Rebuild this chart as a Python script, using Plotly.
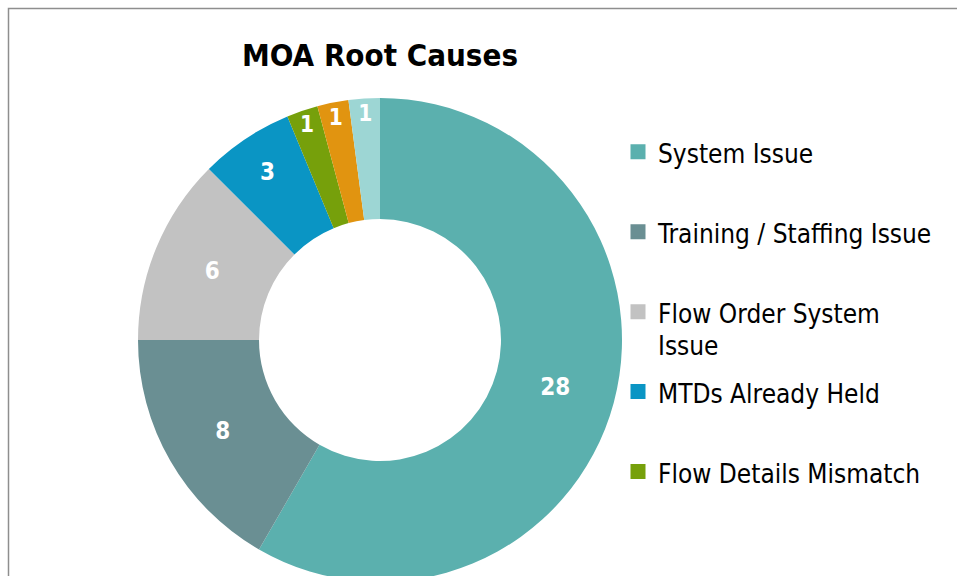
import plotly.graph_objects as go

# ---- data ----
categories = ["System Issue", "Training / Staffing Issue", "Flow Order System Issue",
              "MTDs Already Held", "Flow Details Mismatch", "Duplicate Request", "Other"]
legend_text = ["System Issue", "Training / Staffing Issue",
               'Flow Order System<br><span style="baseline-shift:7px">Issue</span>',
               "MTDs Already Held", "Flow Details Mismatch"]
values = [28, 8, 6, 3, 1, 1, 1]
colors = ["#5BB0AE", "#6A8F93", "#C2C2C2", "#0A95C4", "#76A00B", "#E19410", "#9DD6D4"]

W, H = 957, 720
FONT = "DejaVu Sans Condensed, DejaVu Sans, sans-serif"

# pie geometry in pixels (centre / radius)
cx, cy, r = 380, 340, 242

# legend labels: visible text at 26px, padded to a fixed item height
leg_labels = []
for t in legend_text:
    pad = "" if "<br>" in t else "<br> "
    leg_labels.append(f'<span style="font-size:26px">{t}</span>{pad}')
n_leg = len(leg_labels)

fig = go.Figure()
# main donut
fig.add_trace(go.Pie(
    labels=categories,
    values=values,
    marker=dict(colors=colors, line=dict(width=0)),
    hole=0.5,
    sort=False,
    direction="clockwise",
    rotation=0,
    textinfo="value",
    textposition="inside",
    insidetextorientation="horizontal",
    textfont=dict(family=FONT, size=24, color="white", weight="bold"),
    domain=dict(x=[(cx - r) / W, (cx + r) / W], y=[(H - cy - r) / H, (H - cy + r) / H]),
    hoverinfo="label+value",
    showlegend=False,
))
# legend entries (only the items visible in the original legend)
fig.add_trace(go.Pie(
    labels=leg_labels,
    values=values[:n_leg],
    marker=dict(colors=colors[:n_leg], line=dict(width=3, color=colors[:n_leg])),
    sort=False,
    textinfo="none",
    hoverinfo="skip",
    domain=dict(x=[0, 0.001], y=[0, 0.001]),
    showlegend=True,
))

fig.update_layout(
    width=W, height=H,
    margin=dict(l=0, r=0, t=0, b=0),
    paper_bgcolor="white",
    plot_bgcolor="white",
    title=dict(text="<b>MOA Root Causes</b>", x=cx / W, xanchor="center",
               y=1 - 55 / H, yanchor="middle", yref="container",
               font=dict(family=FONT, size=31, color="black")),
    legend=dict(x=618 / W, xanchor="left", y=1 - 126 / H, yanchor="top",
                font=dict(family=FONT, size=29.6, color="black"),
                valign="top", bgcolor="rgba(0,0,0,0)", tracegroupgap=0),
    showlegend=True,
    shapes=[dict(type="rect", xref="paper", yref="paper",
                 x0=8.5 / W, x1=1.2, y0=-0.2, y1=1 - 8.5 / H,
                 line=dict(color="#8E8E8E", width=1.5), fillcolor="rgba(0,0,0,0)",
                 layer="below")],
)

fig.write_html("out.html", config={"displayModeBar": False},
               post_script="document.body.style.margin='0';document.body.style.overflow='hidden';document.documentElement.style.overflow='hidden';")
